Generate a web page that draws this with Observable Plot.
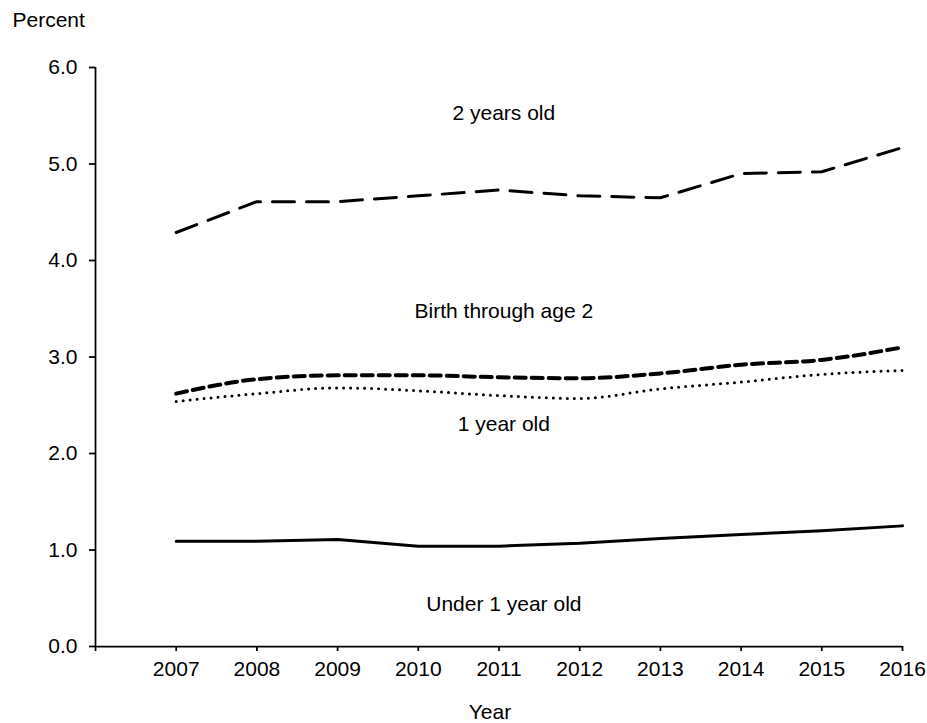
<!DOCTYPE html>
<html>
<head>
<meta charset="utf-8">
<script src="https://cdn.jsdelivr.net/npm/d3@7"></script>
<script src="https://cdn.jsdelivr.net/npm/@observablehq/plot@0.6"></script>
<style>
  html, body { margin: 0; padding: 0; background: #fff; }
  #chart svg { display: block; }
</style>
</head>
<body>
<div id="chart"></div>
<script>
const years = [2007, 2008, 2009, 2010, 2011, 2012, 2013, 2014, 2015, 2016];
const twoYears = [4.29, 4.61, 4.61, 4.67, 4.73, 4.67, 4.65, 4.90, 4.92, 5.17];
const birthThrough2 = [2.62, 2.77, 2.81, 2.81, 2.79, 2.78, 2.83, 2.92, 2.97, 3.10];
const oneYear = [2.54, 2.62, 2.68, 2.65, 2.60, 2.57, 2.67, 2.74, 2.82, 2.86];
const under1 = [1.09, 1.09, 1.11, 1.04, 1.04, 1.07, 1.12, 1.16, 1.20, 1.25];
const yTicks = [0, 1, 2, 3, 4, 5, 6];
const xTicks = [2006, 2007, 2008, 2009, 2010, 2011, 2012, 2013, 2014, 2015, 2016];

const toRows = (vals) => years.map((y, i) => ({year: y, value: vals[i]}));

const font = "'Liberation Sans', Arial, sans-serif";
const labelStyle = {fontSize: 21, fill: "#000", textAnchor: "middle", lineAnchor: "middle", fontFamily: font};

const chart = Plot.plot({
  width: 927,
  height: 723,
  marginTop: 67,
  marginBottom: 77,
  marginLeft: 95,
  marginRight: 25,
  style: {fontFamily: font, fontSize: "21px", color: "#000", background: "#fff"},
  x: {domain: [2006, 2016], ticks: xTicks, label: null},
  y: {domain: [0, 6], ticks: yTicks, label: null},
  marks: [
    Plot.axisX({ticks: xTicks, tickSize: 5, tickPadding: 10, fontSize: 21, strokeWidth: 1.75,
      tickFormat: d => d === 2006 ? "" : String(d), label: null}),
    Plot.axisY({ticks: yTicks, tickSize: 6, tickPadding: 12, fontSize: 21, strokeWidth: 1.75,
      tickFormat: d3.format(".1f"), label: null}),
    Plot.ruleX([2006], {y1: 0, y2: 6, stroke: "#000", strokeWidth: 1.75}),
    Plot.ruleY([0], {x1: 2006, x2: 2016, stroke: "#000", strokeWidth: 1.75}),
    Plot.line(toRows(twoYears), {x: "year", y: "value", stroke: "#000", strokeWidth: 3,
      strokeDasharray: "22,12", strokeLinecap: "round"}),
    Plot.line(toRows(birthThrough2), {x: "year", y: "value", stroke: "#000", strokeWidth: 4,
      strokeDasharray: "11,6", curve: "monotone-x"}),
    Plot.line(toRows(oneYear), {x: "year", y: "value", stroke: "#000", strokeWidth: 3,
      strokeDasharray: "0,7", strokeLinecap: "round", curve: "monotone-x"}),
    Plot.line(toRows(under1), {x: "year", y: "value", stroke: "#000", strokeWidth: 3}),
    Plot.text(["2 years old"], {x: () => 2011.06, y: () => 5.53, ...labelStyle}),
    Plot.text(["Birth through age 2"], {x: () => 2011.06, y: () => 3.47, ...labelStyle}),
    Plot.text(["1 year old"], {x: () => 2011.06, y: () => 2.30, ...labelStyle}),
    Plot.text(["Under 1 year old"], {x: () => 2011.06, y: () => 0.435, ...labelStyle}),
    Plot.text(["Percent"], {frameAnchor: "top-left", dx: -83, dy: -47, textAnchor: "start",
      lineAnchor: "middle", fontSize: 21, fill: "#000", fontFamily: font}),
    Plot.text(["Year"], {frameAnchor: "bottom", dx: -9, dy: 66, textAnchor: "middle",
      lineAnchor: "middle", fontSize: 21, fill: "#000", fontFamily: font})
  ]
});
document.getElementById("chart").appendChild(chart);
</script>
</body>
</html>
